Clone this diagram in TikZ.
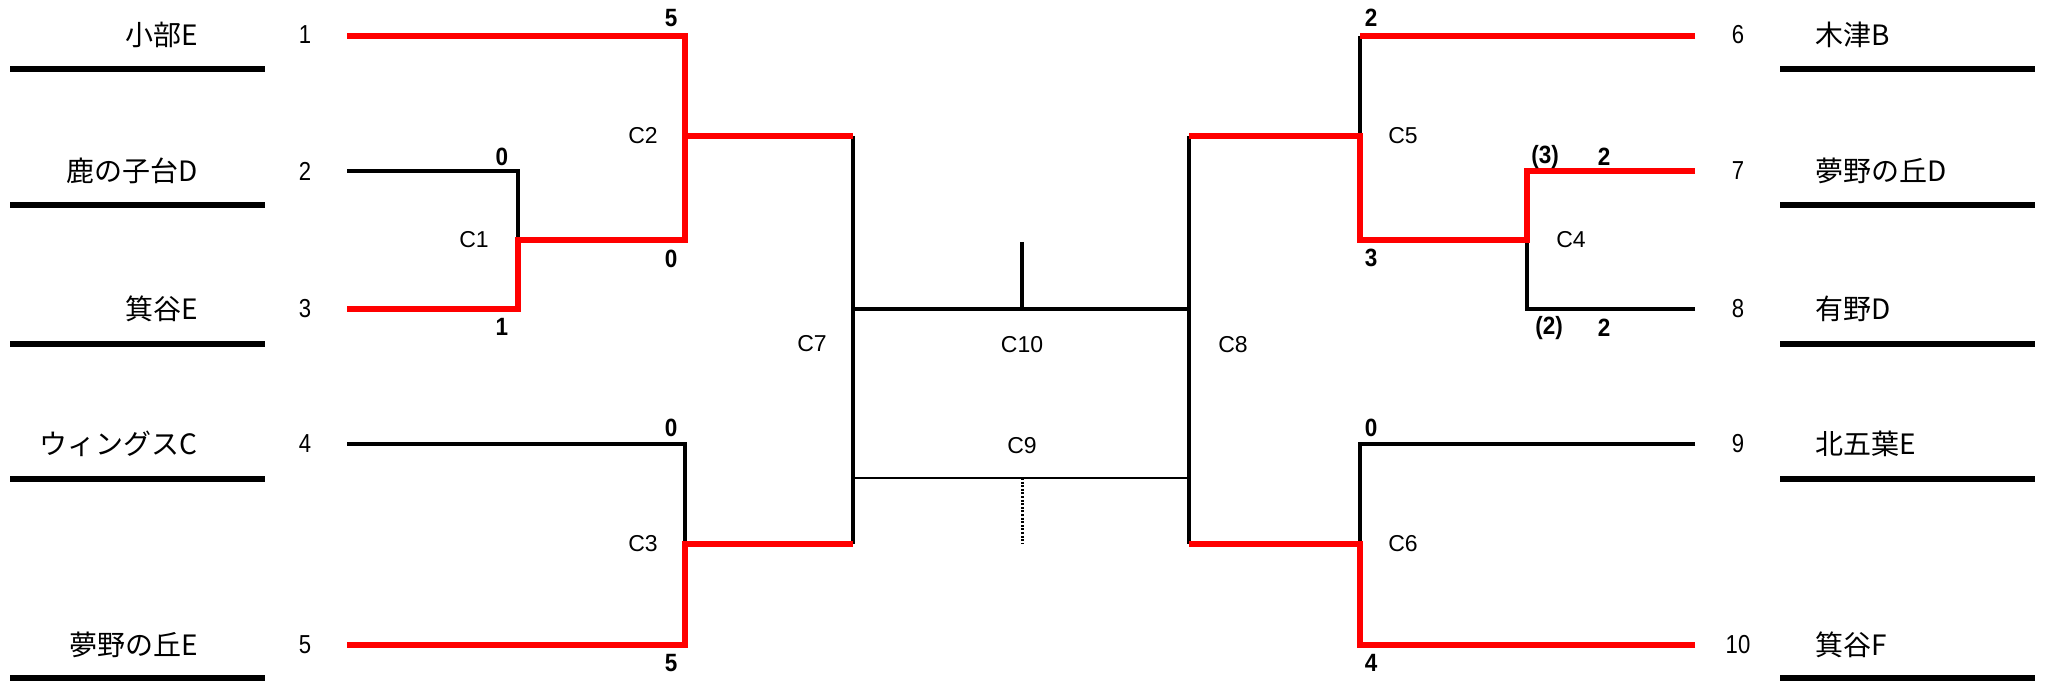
\documentclass[tikz,border=0pt]{standalone}
\usepackage{fontspec}
\setmainfont{Liberation Sans}
\newfontfamily\jp{Noto Sans CJK JP}
\newfontfamily\narrow[FakeStretch=0.85]{Liberation Sans}
\newfontfamily\narrowb[FakeStretch=0.9]{Liberation Sans}
\begin{document}
\begin{tikzpicture}[x=0.5pt,y=-0.5pt,
  winline/.style={red, line width=2.7pt, line join=miter},
  loseline/.style={black, line width=1.6pt},
  uline/.style={black, line width=3pt},
  thinl/.style={black, line width=0.8pt},
  tname/.style={font=\jp\fontsize{14}{16}\selectfont, inner sep=0pt},
  tseed/.style={font=\narrow\fontsize{13}{15}\selectfont, inner sep=0pt},
  gamelbl/.style={font=\fontsize{11.5}{13}\selectfont, inner sep=0pt},
  scorelbl/.style={font=\narrowb\bfseries\fontsize{12.5}{14}\selectfont, inner sep=0pt}]
\useasboundingbox (0,0) rectangle (2046,683);

% ---------- left team names, seeds, underlines
\foreach \i/\t/\y/\u in {1/小部E/35/69, 2/鹿の子台D/171/205, 3/箕谷E/309/344, 4/ウィングスC/444/479, 5/夢野の丘E/645/678}{
  \node[tname, anchor=east] (n\i) at (198,\y) {\t};
  \node[tseed] (s\i) at (305,\y) {\i};
  \coordinate (ul\i) at (10,\u);
  \coordinate (ur\i) at (265,\u);
  \draw[uline] (ul\i) -- (ur\i);
}
% ---------- right team names, seeds, underlines
\foreach \i/\t/\y/\u in {6/木津B/35/69, 7/夢野の丘D/171/205, 8/有野D/309/344, 9/北五葉E/444/479, 10/箕谷F/645/678}{
  \node[tname, anchor=west] (n\i) at (1815,\y) {\t};
  \node[tseed] (s\i) at (1738,\y) {\i};
  \coordinate (vl\i) at (1780,\u);
  \coordinate (vr\i) at (2035,\u);
  \draw[uline] (vl\i) -- (vr\i);
}

% ---------- line ends
\coordinate (e1) at (347,36);
\coordinate (e2) at (347,171);
\coordinate (e3) at (347,309);
\coordinate (e4) at (347,444);
\coordinate (e5) at (347,645);
\coordinate (e6) at (1695,36);
\coordinate (e7) at (1695,171);
\coordinate (e8) at (1695,309);
\coordinate (e9) at (1695,444);
\coordinate (e10) at (1695,645);

% ---------- junctions
\coordinate (j1) at (518,240);
\coordinate (j2) at (685,136);
\coordinate (j3) at (685,544);
\coordinate (j4) at (1527,240);
\coordinate (j5) at (1360,136);
\coordinate (j5t) at (1360,36);
\coordinate (j6) at (1360,544);
\coordinate (j7a) at (853,136);
\coordinate (j7b) at (853,544);
\coordinate (j8a) at (1189,136);
\coordinate (j8b) at (1189,544);
\coordinate (f10a) at (853,309);
\coordinate (f10b) at (1189,309);
\coordinate (f10t) at (1022,242);
\coordinate (f10m) at (1022,309);
\coordinate (f9a) at (853,478);
\coordinate (f9b) at (1189,478);
\coordinate (f9m) at (1022,478);
\coordinate (f9d) at (1022,544);

% ---------- black (losing) lines
\draw[loseline] (e2) -| (j1);
\draw[loseline] (j1) -| (j2);
\draw[loseline] (e4) -| (j3);
\draw[loseline] (j7a) -- (j7b);
\draw[loseline] (j8a) -- (j8b);
\draw[loseline] (f10a) -- (f10b);
\draw[loseline] (f10t) -- (f10m);
\draw[thinl] (f9a) -- (f9b);
\draw[black, line width=1.5pt, dash pattern=on 1pt off 0.8pt] (f9m) -- (f9d);
\draw[loseline] (j5t) -- (j5);
\draw[loseline] (e8) -| (j4);
\draw[loseline] (e9) -| (j6);

% ---------- red (winning) lines
\draw[winline] (e3) -| (j1) -| (j2);
\draw[winline] (e1) -| (j2) -- (j7a);
\draw[winline] (e5) -| (j3) -- (j7b);
\draw[winline] (e6) -- (j5t);
\draw[winline] (e7) -| (j4) -| (j5) -- (j8a);
\draw[winline] (e10) -| (j6) -- (j8b);

% ---------- game labels
\node[gamelbl] (c1) at (474,240) {C1};
\node[gamelbl] (c2) at (643,136) {C2};
\node[gamelbl] (c3) at (643,544) {C3};
\node[gamelbl] (c7) at (812,344) {C7};
\node[gamelbl] (c10) at (1022,345) {C10};
\node[gamelbl] (c9) at (1022,446) {C9};
\node[gamelbl] (c8) at (1233,345) {C8};
\node[gamelbl] (c5) at (1403,136) {C5};
\node[gamelbl] (c4) at (1571,240) {C4};
\node[gamelbl] (c6) at (1403,544) {C6};

% ---------- scores
\node[scorelbl] (p1) at (671,18) {5};
\node[scorelbl] (p2) at (502,157) {0};
\node[scorelbl] (p3) at (502,327) {1};
\node[scorelbl] (p4) at (671,259) {0};
\node[scorelbl] (p5) at (671,428) {0};
\node[scorelbl] (p6) at (671,663) {5};
\node[scorelbl] (p7) at (1371,18) {2};
\node[scorelbl] (p8) at (1371,258) {3};
\node[scorelbl] (p9) at (1371,428) {0};
\node[scorelbl] (p10) at (1371,663) {4};
\node[scorelbl] (p11) at (1545,157) {(3)};
\node[scorelbl] (p12) at (1604,157) {2};
\node[scorelbl] (p13) at (1549,328) {(2)};
\node[scorelbl] (p14) at (1604,328) {2};
\end{tikzpicture}
\end{document}
